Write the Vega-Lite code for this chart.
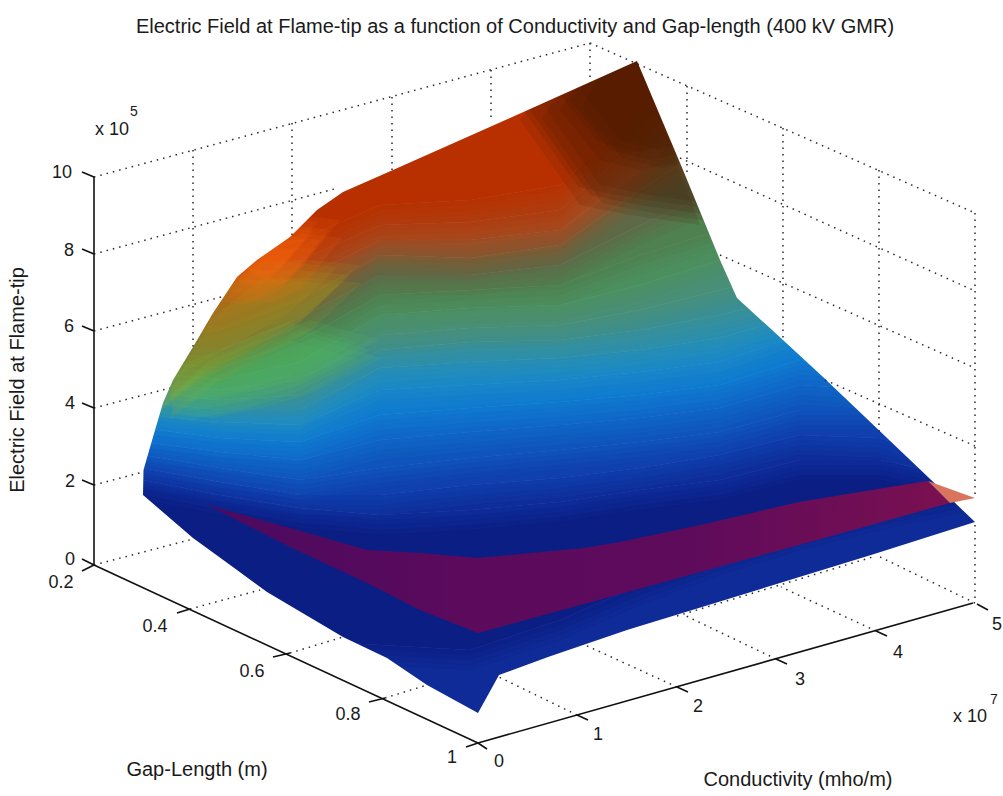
{"$schema":"https://vega.github.io/schema/vega-lite/v6.json","width":1003,"height":796,"padding":0,"autosize":{"type":"none"},"background":"white","view":{"stroke":null},
"datasets":{
"bands":[
{"v":"9","x":143,"y":0,"y2":300},{"v":"9","x":220,"y":0,"y2":280},{"v":"9","x":300,"y":0,"y2":250},{"v":"9","x":380,"y":0,"y2":215},{"v":"9","x":470,"y":0,"y2":210},{"v":"9","x":560,"y":0,"y2":195},{"v":"9","x":640,"y":0,"y2":120},{"v":"9","x":720,"y":0,"y2":30},{"v":"9","x":800,"y":0,"y2":0},{"v":"9","x":880,"y":0,"y2":0},{"v":"9","x":975,"y":0,"y2":0},
{"v":"8","x":143,"y":300,"y2":320},{"v":"8","x":220,"y":280,"y2":300},{"v":"8","x":300,"y":250,"y2":270},{"v":"8","x":380,"y":215,"y2":235},{"v":"8","x":470,"y":210,"y2":232},{"v":"8","x":560,"y":195,"y2":220},{"v":"8","x":640,"y":120,"y2":150},{"v":"8","x":720,"y":30,"y2":60},{"v":"8","x":800,"y":0,"y2":0},{"v":"8","x":880,"y":0,"y2":0},{"v":"8","x":975,"y":0,"y2":0},
{"v":"7.5","x":143,"y":320,"y2":335},{"v":"7.5","x":220,"y":300,"y2":320},{"v":"7.5","x":300,"y":270,"y2":290},{"v":"7.5","x":380,"y":235,"y2":250},{"v":"7.5","x":470,"y":232,"y2":250},{"v":"7.5","x":560,"y":220,"y2":240},{"v":"7.5","x":640,"y":150,"y2":180},{"v":"7.5","x":720,"y":60,"y2":100},{"v":"7.5","x":800,"y":0,"y2":0},{"v":"7.5","x":880,"y":0,"y2":0},{"v":"7.5","x":975,"y":0,"y2":0},
{"v":"7","x":143,"y":335,"y2":350},{"v":"7","x":220,"y":320,"y2":340},{"v":"7","x":300,"y":290,"y2":310},{"v":"7","x":380,"y":250,"y2":265},{"v":"7","x":470,"y":250,"y2":268},{"v":"7","x":560,"y":240,"y2":255},{"v":"7","x":640,"y":180,"y2":200},{"v":"7","x":720,"y":100,"y2":150},{"v":"7","x":800,"y":0,"y2":50},{"v":"7","x":880,"y":0,"y2":0},{"v":"7","x":975,"y":0,"y2":0},
{"v":"6.5","x":143,"y":350,"y2":360},{"v":"6.5","x":220,"y":340,"y2":360},{"v":"6.5","x":300,"y":310,"y2":328},{"v":"6.5","x":380,"y":265,"y2":285},{"v":"6.5","x":470,"y":268,"y2":285},{"v":"6.5","x":560,"y":255,"y2":275},{"v":"6.5","x":640,"y":200,"y2":235},{"v":"6.5","x":720,"y":150,"y2":200},{"v":"6.5","x":800,"y":50,"y2":100},{"v":"6.5","x":880,"y":0,"y2":50},{"v":"6.5","x":975,"y":0,"y2":50},
{"v":"6","x":143,"y":360,"y2":370},{"v":"6","x":220,"y":360,"y2":378},{"v":"6","x":300,"y":328,"y2":350},{"v":"6","x":380,"y":285,"y2":305},{"v":"6","x":470,"y":285,"y2":300},{"v":"6","x":560,"y":275,"y2":295},{"v":"6","x":640,"y":235,"y2":265},{"v":"6","x":720,"y":200,"y2":240},{"v":"6","x":800,"y":100,"y2":180},{"v":"6","x":880,"y":50,"y2":100},{"v":"6","x":975,"y":50,"y2":100},
{"v":"5.5","x":143,"y":370,"y2":382},{"v":"5.5","x":220,"y":378,"y2":390},{"v":"5.5","x":300,"y":350,"y2":372},{"v":"5.5","x":380,"y":305,"y2":325},{"v":"5.5","x":470,"y":300,"y2":318},{"v":"5.5","x":560,"y":295,"y2":315},{"v":"5.5","x":640,"y":265,"y2":295},{"v":"5.5","x":720,"y":240,"y2":270},{"v":"5.5","x":800,"y":180,"y2":240},{"v":"5.5","x":880,"y":100,"y2":200},{"v":"5.5","x":975,"y":100,"y2":200},
{"v":"5","x":143,"y":382,"y2":392},{"v":"5","x":220,"y":390,"y2":400},{"v":"5","x":300,"y":372,"y2":390},{"v":"5","x":380,"y":325,"y2":345},{"v":"5","x":470,"y":318,"y2":338},{"v":"5","x":560,"y":315,"y2":335},{"v":"5","x":640,"y":295,"y2":320},{"v":"5","x":720,"y":270,"y2":300},{"v":"5","x":800,"y":240,"y2":280},{"v":"5","x":880,"y":200,"y2":260},{"v":"5","x":975,"y":200,"y2":260},
{"v":"4.5","x":143,"y":392,"y2":402},{"v":"4.5","x":220,"y":400,"y2":410},{"v":"4.5","x":300,"y":390,"y2":405},{"v":"4.5","x":380,"y":345,"y2":360},{"v":"4.5","x":470,"y":338,"y2":352},{"v":"4.5","x":560,"y":335,"y2":350},{"v":"4.5","x":640,"y":320,"y2":340},{"v":"4.5","x":720,"y":300,"y2":325},{"v":"4.5","x":800,"y":280,"y2":305},{"v":"4.5","x":880,"y":260,"y2":300},{"v":"4.5","x":975,"y":260,"y2":300},
{"v":"4","x":143,"y":402,"y2":412},{"v":"4","x":220,"y":410,"y2":420},{"v":"4","x":300,"y":405,"y2":420},{"v":"4","x":380,"y":360,"y2":378},{"v":"4","x":470,"y":352,"y2":372},{"v":"4","x":560,"y":350,"y2":368},{"v":"4","x":640,"y":340,"y2":360},{"v":"4","x":720,"y":325,"y2":348},{"v":"4","x":800,"y":305,"y2":325},{"v":"4","x":880,"y":300,"y2":335},{"v":"4","x":975,"y":300,"y2":340},
{"v":"3.5","x":143,"y":412,"y2":425},{"v":"3.5","x":220,"y":420,"y2":432},{"v":"3.5","x":300,"y":420,"y2":435},{"v":"3.5","x":380,"y":378,"y2":400},{"v":"3.5","x":470,"y":372,"y2":395},{"v":"3.5","x":560,"y":368,"y2":390},{"v":"3.5","x":640,"y":360,"y2":382},{"v":"3.5","x":720,"y":348,"y2":372},{"v":"3.5","x":800,"y":325,"y2":345},{"v":"3.5","x":880,"y":335,"y2":355},{"v":"3.5","x":975,"y":340,"y2":370},
{"v":"3","x":143,"y":425,"y2":438},{"v":"3","x":220,"y":432,"y2":448},{"v":"3","x":300,"y":435,"y2":452},{"v":"3","x":380,"y":400,"y2":425},{"v":"3","x":470,"y":395,"y2":418},{"v":"3","x":560,"y":390,"y2":412},{"v":"3","x":640,"y":382,"y2":405},{"v":"3","x":720,"y":372,"y2":395},{"v":"3","x":800,"y":345,"y2":370},{"v":"3","x":880,"y":355,"y2":375},{"v":"3","x":975,"y":370,"y2":400},
{"v":"2.5","x":143,"y":438,"y2":452},{"v":"2.5","x":220,"y":448,"y2":462},{"v":"2.5","x":300,"y":452,"y2":470},{"v":"2.5","x":380,"y":425,"y2":450},{"v":"2.5","x":470,"y":418,"y2":442},{"v":"2.5","x":560,"y":412,"y2":435},{"v":"2.5","x":640,"y":405,"y2":428},{"v":"2.5","x":720,"y":395,"y2":418},{"v":"2.5","x":800,"y":370,"y2":395},{"v":"2.5","x":880,"y":375,"y2":400},{"v":"2.5","x":975,"y":400,"y2":430},
{"v":"2","x":143,"y":452,"y2":465},{"v":"2","x":220,"y":462,"y2":478},{"v":"2","x":300,"y":470,"y2":490},{"v":"2","x":380,"y":450,"y2":478},{"v":"2","x":470,"y":442,"y2":468},{"v":"2","x":560,"y":435,"y2":460},{"v":"2","x":640,"y":428,"y2":452},{"v":"2","x":720,"y":418,"y2":442},{"v":"2","x":800,"y":395,"y2":420},{"v":"2","x":880,"y":400,"y2":420},{"v":"2","x":975,"y":430,"y2":460},
{"v":"1.5","x":143,"y":465,"y2":478},{"v":"1.5","x":220,"y":478,"y2":492},{"v":"1.5","x":300,"y":490,"y2":505},{"v":"1.5","x":380,"y":478,"y2":505},{"v":"1.5","x":470,"y":468,"y2":495},{"v":"1.5","x":560,"y":460,"y2":488},{"v":"1.5","x":640,"y":452,"y2":478},{"v":"1.5","x":720,"y":442,"y2":465},{"v":"1.5","x":800,"y":420,"y2":445},{"v":"1.5","x":880,"y":420,"y2":448},{"v":"1.5","x":975,"y":460,"y2":480},
{"v":"1","x":143,"y":478,"y2":490},{"v":"1","x":220,"y":492,"y2":505},{"v":"1","x":300,"y":505,"y2":518},{"v":"1","x":380,"y":505,"y2":525},{"v":"1","x":470,"y":495,"y2":520},{"v":"1","x":560,"y":488,"y2":512},{"v":"1","x":640,"y":478,"y2":500},{"v":"1","x":720,"y":465,"y2":490},{"v":"1","x":800,"y":445,"y2":470},{"v":"1","x":880,"y":448,"y2":470},{"v":"1","x":975,"y":480,"y2":490},
{"v":"0.5","x":143,"y":490,"y2":640},{"v":"0.5","x":220,"y":505,"y2":645},{"v":"0.5","x":300,"y":518,"y2":650},{"v":"0.5","x":380,"y":525,"y2":655},{"v":"0.5","x":470,"y":520,"y2":660},{"v":"0.5","x":560,"y":512,"y2":630},{"v":"0.5","x":640,"y":500,"y2":595},{"v":"0.5","x":720,"y":490,"y2":565},{"v":"0.5","x":800,"y":470,"y2":540},{"v":"0.5","x":880,"y":470,"y2":520},{"v":"0.5","x":975,"y":490,"y2":500},
{"v":"0","x":143,"y":640,"y2":796},{"v":"0","x":220,"y":645,"y2":796},{"v":"0","x":300,"y":650,"y2":796},{"v":"0","x":380,"y":655,"y2":796},{"v":"0","x":470,"y":660,"y2":796},{"v":"0","x":560,"y":630,"y2":796},{"v":"0","x":640,"y":595,"y2":796},{"v":"0","x":720,"y":565,"y2":796},{"v":"0","x":800,"y":540,"y2":796},{"v":"0","x":880,"y":520,"y2":796},{"v":"0","x":975,"y":500,"y2":796}
],
"patches":[
{"p":"b1","x":530,"y":110,"y2":110},{"p":"b1","x":590,"y":30,"y2":195},{"p":"b1","x":640,"y":30,"y2":205},{"p":"b1","x":710,"y":215,"y2":215},
{"p":"b2","x":570,"y":100,"y2":100},{"p":"b2","x":610,"y":30,"y2":150},{"p":"b2","x":650,"y":30,"y2":160},{"p":"b2","x":700,"y":150,"y2":150},
{"p":"y1","x":160,"y":380,"y2":410},{"p":"y1","x":200,"y":310,"y2":378},{"p":"y1","x":250,"y":270,"y2":350},{"p":"y1","x":300,"y":270,"y2":322},{"p":"y1","x":350,"y":275,"y2":275},
{"p":"g1","x":158,"y":405,"y2":405},{"p":"g1","x":200,"y":370,"y2":410},{"p":"g1","x":250,"y":350,"y2":400},{"p":"g1","x":300,"y":330,"y2":385},{"p":"g1","x":370,"y":350,"y2":350},
{"p":"o1","x":215,"y":290,"y2":290},{"p":"o1","x":260,"y":240,"y2":295},{"p":"o1","x":290,"y":225,"y2":280},{"p":"o1","x":330,"y":230,"y2":230},
{"p":"o2","x":235,"y":265,"y2":265},{"p":"o2","x":270,"y":240,"y2":280},{"p":"o2","x":305,"y":240,"y2":240}
],
"maskTop":[{"x":143,"y":495},{"x":143.5,"y":470},{"x":153,"y":437},{"x":163,"y":403},{"x":173,"y":380},{"x":193,"y":347},{"x":213,"y":313},{"x":237,"y":277},{"x":257,"y":260},{"x":290,"y":237},{"x":317,"y":210},{"x":343,"y":192},{"x":393,"y":170},{"x":510,"y":118},{"x":637,"y":61},{"x":683,"y":170},{"x":720,"y":260},{"x":737,"y":298},{"x":783,"y":340},{"x":823,"y":377},{"x":928,"y":477},{"x":975,"y":522}],
"maskBottom":[{"x":143,"y":495},{"x":193,"y":538},{"x":237,"y":570},{"x":267,"y":592},{"x":343,"y":637},{"x":387,"y":658},{"x":427,"y":685},{"x":478,"y":713},{"x":499,"y":675},{"x":548,"y":657},{"x":627,"y":630},{"x":871,"y":555},{"x":975,"y":522}],
"plane":[
{"x":207,"y":505,"y2":505},{"x":290,"y":528,"y2":547},{"x":367,"y":550,"y2":583},{"x":420,"y":553,"y2":610},{"x":478,"y":558,"y2":633},
{"x":584,"y":548,"y2":604},{"x":620,"y":542,"y2":594},{"x":700,"y":525,"y2":572},
{"x":799,"y":502,"y2":545},{"x":921,"y":482,"y2":511},{"x":928,"y":481,"y2":509},{"x":950,"y":503,"y2":503}
],
"tip":[{"x":928,"y":481,"y2":481},{"x":950,"y":489,"y2":503},{"x":975,"y":498,"y2":498}],
"dotted":[
{"x":94,"y":177,"x2":590,"y2":43},{"x":590,"y":43,"x2":975,"y2":213},
{"x":94,"y":254,"x2":338,"y2":188},{"x":94,"y":331,"x2":225,"y2":296},{"x":94,"y":408,"x2":170,"y2":388},{"x":94,"y":485,"x2":143,"y2":472},{"x":94,"y":565,"x2":193,"y2":539},
{"x":190,"y":609,"x2":260,"y2":590},{"x":290,"y":653,"x2":343,"y2":637},{"x":385,"y":698,"x2":427,"y2":685},
{"x":577,"y":715,"x2":499,"y2":677},{"x":677,"y":687,"x2":585,"y2":645},{"x":776,"y":659,"x2":684,"y2":615},{"x":876,"y":631,"x2":781,"y2":587},{"x":975,"y":603,"x2":876,"y2":555},
{"x":677,"y":616,"x2":876,"y2":556},
{"x":680,"y":158,"x2":975,"y2":291},{"x":720,"y":255,"x2":975,"y2":368},{"x":825,"y":380,"x2":975,"y2":446},
{"x":193,"y":150,"x2":193,"y2":347},{"x":292,"y":123,"x2":292,"y2":238},{"x":392,"y":97,"x2":392,"y2":171},{"x":491,"y":70,"x2":491,"y2":120},{"x":590,"y":43,"x2":590,"y2":80},
{"x":687,"y":86,"x2":687,"y2":173},{"x":783,"y":128,"x2":783,"y2":340},{"x":879,"y":170,"x2":879,"y2":433},{"x":975,"y":213,"x2":975,"y2":498},{"x":975,"y":525,"x2":975,"y2":603}
],
"solid":[
{"x":94,"y":177,"x2":94,"y2":565},{"x":94,"y":565,"x2":478,"y2":743},{"x":478,"y":743,"x2":973,"y2":603},
{"x":82,"y":172,"x2":94,"y2":177},{"x":82,"y":249,"x2":94,"y2":254},{"x":82,"y":326,"x2":94,"y2":331},{"x":82,"y":403,"x2":94,"y2":408},{"x":82,"y":480,"x2":94,"y2":485},{"x":82,"y":559,"x2":94,"y2":565},
{"x":82,"y":571,"x2":94,"y2":565},{"x":177,"y":613,"x2":190,"y2":609},{"x":273,"y":657,"x2":290,"y2":653},{"x":369,"y":702,"x2":385,"y2":698},{"x":466,"y":747,"x2":478,"y2":743},
{"x":478,"y":743,"x2":487,"y2":749},{"x":577,"y":715,"x2":588,"y2":720},{"x":677,"y":687,"x2":688,"y2":692},{"x":776,"y":659,"x2":787,"y2":664},{"x":876,"y":631,"x2":887,"y2":636},{"x":977,"y":604,"x2":988,"y2":610}
],
"labels":[
{"t":"Electric Field at Flame-tip as a function of Conductivity and Gap-length (400 kV GMR)","x":515,"y":27,"f":"main"},
{"t":"x 10","x":112,"y":130,"f":"tick"},
{"t":"10","x":62,"y":173,"f":"tick"},{"t":"8","x":69,"y":251,"f":"tick"},{"t":"6","x":69,"y":327,"f":"tick"},{"t":"4","x":70,"y":404,"f":"tick"},{"t":"2","x":70,"y":482,"f":"tick"},{"t":"0","x":70,"y":560,"f":"tick"},
{"t":"0.2","x":61,"y":583,"f":"tick"},{"t":"0.4","x":155,"y":627,"f":"tick"},{"t":"0.6","x":252,"y":672,"f":"tick"},{"t":"0.8","x":348,"y":715,"f":"tick"},{"t":"1","x":452,"y":758,"f":"tick"},
{"t":"0","x":499,"y":762,"f":"tick"},{"t":"1","x":598,"y":735,"f":"tick"},{"t":"2","x":698,"y":707,"f":"tick"},{"t":"3","x":800,"y":680,"f":"tick"},{"t":"4","x":898,"y":653,"f":"tick"},{"t":"5","x":997,"y":625,"f":"tick"},
{"t":"x 10","x":970,"y":717,"f":"tick"},
{"t":"Gap-Length (m)","x":197,"y":770,"f":"main"},{"t":"Conductivity (mho/m)","x":798,"y":780,"f":"main"}
],
"sups":[{"t":"5","x":134,"y":112},{"t":"7","x":994,"y":700}],
"ylab":[{"t":"Electric Field at Flame-tip","x":18,"y":380}]
},
"layer":[
{"data":{"name":"bands"},"mark":{"type":"area","yOffset":-10,"y2Offset":-10},"encoding":{
"x":{"field":"x","type":"quantitative","scale":{"domain":[0,1003],"nice":false,"zero":false},"axis":null},
"y":{"field":"y","type":"quantitative","scale":{"domain":[796,0],"nice":false,"zero":false},"axis":null},
"y2":{"field":"y2"},
"detail":{"field":"v"},
"color":{"field":"v","type":"ordinal","legend":null,"scale":{"domain":["9","8","7.5","7","6.5","6","5.5","5","4.5","4","3.5","3","2.5","2","1.5","1","0.5","0"],"range":["#b83000","#b03c10","#a44c22","#7e5a34","#5e6a48","#4f8050","#4d8f60","#4a9078","#3a9095","#2a90b0","#1a88c8","#107bd0","#1068c8","#1055bd","#1040ae","#0e2e9a","#0b1f85","#0f2c98"]}}
}},
{"data":{"name":"bands"},"mark":{"type":"area","yOffset":-5,"y2Offset":-5,"opacity":0.5},"encoding":{
"x":{"field":"x","type":"quantitative"},"y":{"field":"y","type":"quantitative"},"y2":{"field":"y2"},"detail":{"field":"v"},
"color":{"field":"v","type":"ordinal","legend":null,"scale":{"domain":["9","8","7.5","7","6.5","6","5.5","5","4.5","4","3.5","3","2.5","2","1.5","1","0.5","0"],"range":["#b83000","#b03c10","#a44c22","#7e5a34","#5e6a48","#4f8050","#4d8f60","#4a9078","#3a9095","#2a90b0","#1a88c8","#107bd0","#1068c8","#1055bd","#1040ae","#0e2e9a","#0b1f85","#0f2c98"]}}
}},
{"data":{"name":"bands"},"mark":{"type":"area","opacity":0.33},"encoding":{
"x":{"field":"x","type":"quantitative"},"y":{"field":"y","type":"quantitative"},"y2":{"field":"y2"},"detail":{"field":"v"},
"color":{"field":"v","type":"ordinal","legend":null,"scale":{"domain":["9","8","7.5","7","6.5","6","5.5","5","4.5","4","3.5","3","2.5","2","1.5","1","0.5","0"],"range":["#b83000","#b03c10","#a44c22","#7e5a34","#5e6a48","#4f8050","#4d8f60","#4a9078","#3a9095","#2a90b0","#1a88c8","#107bd0","#1068c8","#1055bd","#1040ae","#0e2e9a","#0b1f85","#0f2c98"]}}
}},
{"data":{"name":"bands"},"mark":{"type":"area","yOffset":5,"y2Offset":5,"opacity":0.25},"encoding":{
"x":{"field":"x","type":"quantitative"},"y":{"field":"y","type":"quantitative"},"y2":{"field":"y2"},"detail":{"field":"v"},
"color":{"field":"v","type":"ordinal","legend":null,"scale":{"domain":["9","8","7.5","7","6.5","6","5.5","5","4.5","4","3.5","3","2.5","2","1.5","1","0.5","0"],"range":["#b83000","#b03c10","#a44c22","#7e5a34","#5e6a48","#4f8050","#4d8f60","#4a9078","#3a9095","#2a90b0","#1a88c8","#107bd0","#1068c8","#1055bd","#1040ae","#0e2e9a","#0b1f85","#0f2c98"]}}
}},
{"data":{"name":"bands"},"mark":{"type":"area","yOffset":10,"y2Offset":10,"opacity":0.2},"encoding":{
"x":{"field":"x","type":"quantitative"},"y":{"field":"y","type":"quantitative"},"y2":{"field":"y2"},"detail":{"field":"v"},
"color":{"field":"v","type":"ordinal","legend":null,"scale":{"domain":["9","8","7.5","7","6.5","6","5.5","5","4.5","4","3.5","3","2.5","2","1.5","1","0.5","0"],"range":["#b83000","#b03c10","#a44c22","#7e5a34","#5e6a48","#4f8050","#4d8f60","#4a9078","#3a9095","#2a90b0","#1a88c8","#107bd0","#1068c8","#1055bd","#1040ae","#0e2e9a","#0b1f85","#0f2c98"]}}
}},
{"data":{"name":"patches"},"mark":{"type":"area","opacity":0.12,"xOffset":-12,"yOffset":-8,"y2Offset":-8},"encoding":{
"x":{"field":"x","type":"quantitative"},"y":{"field":"y","type":"quantitative"},"y2":{"field":"y2"},"detail":{"field":"p"},
"color":{"field":"p","type":"nominal","legend":null,"scale":{"domain":["b1","b2","y1","g1","o1","o2"],"range":["#3a1800","#3a1800","#b0a818","#50c860","#ff6a10","#ff6a10"]}}}},
{"data":{"name":"patches"},"mark":{"type":"area","opacity":0.12,"xOffset":10,"yOffset":-10,"y2Offset":-10},"encoding":{
"x":{"field":"x","type":"quantitative"},"y":{"field":"y","type":"quantitative"},"y2":{"field":"y2"},"detail":{"field":"p"},
"color":{"field":"p","type":"nominal","legend":null,"scale":{"domain":["b1","b2","y1","g1","o1","o2"],"range":["#3a1800","#3a1800","#b0a818","#50c860","#ff6a10","#ff6a10"]}}}},
{"data":{"name":"patches"},"mark":{"type":"area","opacity":0.14},"encoding":{
"x":{"field":"x","type":"quantitative"},"y":{"field":"y","type":"quantitative"},"y2":{"field":"y2"},"detail":{"field":"p"},
"color":{"field":"p","type":"nominal","legend":null,"scale":{"domain":["b1","b2","y1","g1","o1","o2"],"range":["#3a1800","#3a1800","#b0a818","#50c860","#ff6a10","#ff6a10"]}}}},
{"data":{"name":"patches"},"mark":{"type":"area","opacity":0.12,"xOffset":-10,"yOffset":10,"y2Offset":10},"encoding":{
"x":{"field":"x","type":"quantitative"},"y":{"field":"y","type":"quantitative"},"y2":{"field":"y2"},"detail":{"field":"p"},
"color":{"field":"p","type":"nominal","legend":null,"scale":{"domain":["b1","b2","y1","g1","o1","o2"],"range":["#3a1800","#3a1800","#b0a818","#50c860","#ff6a10","#ff6a10"]}}}},
{"data":{"name":"patches"},"mark":{"type":"area","opacity":0.12,"xOffset":12,"yOffset":8,"y2Offset":8},"encoding":{
"x":{"field":"x","type":"quantitative"},"y":{"field":"y","type":"quantitative"},"y2":{"field":"y2"},"detail":{"field":"p"},
"color":{"field":"p","type":"nominal","legend":null,"scale":{"domain":["b1","b2","y1","g1","o1","o2"],"range":["#3a1800","#3a1800","#b0a818","#50c860","#ff6a10","#ff6a10"]}}}},
{"data":{"name":"maskTop"},"mark":{"type":"area","color":"white"},"encoding":{"x":{"field":"x","type":"quantitative"},"y":{"field":"y","type":"quantitative"},"y2":{"datum":0}}},
{"data":{"name":"maskBottom"},"mark":{"type":"area","color":"white"},"encoding":{"x":{"field":"x","type":"quantitative"},"y":{"field":"y","type":"quantitative"},"y2":{"datum":796}}},
{"data":{"name":"dotted"},"mark":{"type":"rule","color":"#2a2a2a","strokeWidth":1.5,"strokeDash":[1.5,5]},"encoding":{"x":{"field":"x","type":"quantitative"},"y":{"field":"y","type":"quantitative"},"x2":{"field":"x2"},"y2":{"field":"y2"}}},
{"data":{"name":"plane"},"mark":{"type":"area","color":{"gradient":"linear","x1":0,"y1":0,"x2":1,"y2":0,"stops":[{"offset":0,"color":"#4a0a60"},{"offset":0.35,"color":"#5c0a5c"},{"offset":0.65,"color":"#5e0b5c"},{"offset":1,"color":"#7a1050"}]}},"encoding":{"x":{"field":"x","type":"quantitative"},"y":{"field":"y","type":"quantitative"},"y2":{"field":"y2"}}},
{"data":{"name":"tip"},"mark":{"type":"area","color":"#d9745f"},"encoding":{"x":{"field":"x","type":"quantitative"},"y":{"field":"y","type":"quantitative"},"y2":{"field":"y2"}}},
{"data":{"name":"solid"},"mark":{"type":"rule","color":"#111111","strokeWidth":1.6},"encoding":{"x":{"field":"x","type":"quantitative"},"y":{"field":"y","type":"quantitative"},"x2":{"field":"x2"},"y2":{"field":"y2"}}},
{"data":{"name":"labels"},"mark":{"type":"text","font":"Liberation Sans","color":"#1a1a1a","align":"center","baseline":"middle"},"encoding":{"x":{"field":"x","type":"quantitative"},"y":{"field":"y","type":"quantitative"},"text":{"field":"t"},
"size":{"field":"f","type":"nominal","legend":null,"scale":{"domain":["main","tick"],"range":[20,18]}}}},
{"data":{"name":"sups"},"mark":{"type":"text","font":"Liberation Sans","fontSize":14,"color":"#1a1a1a","align":"center","baseline":"middle"},"encoding":{"x":{"field":"x","type":"quantitative"},"y":{"field":"y","type":"quantitative"},"text":{"field":"t"}}},
{"data":{"name":"ylab"},"mark":{"type":"text","font":"Liberation Sans","fontSize":20,"angle":270,"color":"#1a1a1a","align":"center","baseline":"middle"},"encoding":{"x":{"field":"x","type":"quantitative"},"y":{"field":"y","type":"quantitative"},"text":{"field":"t"}}}
],
"resolve":{"scale":{"color":"independent"}}
}
